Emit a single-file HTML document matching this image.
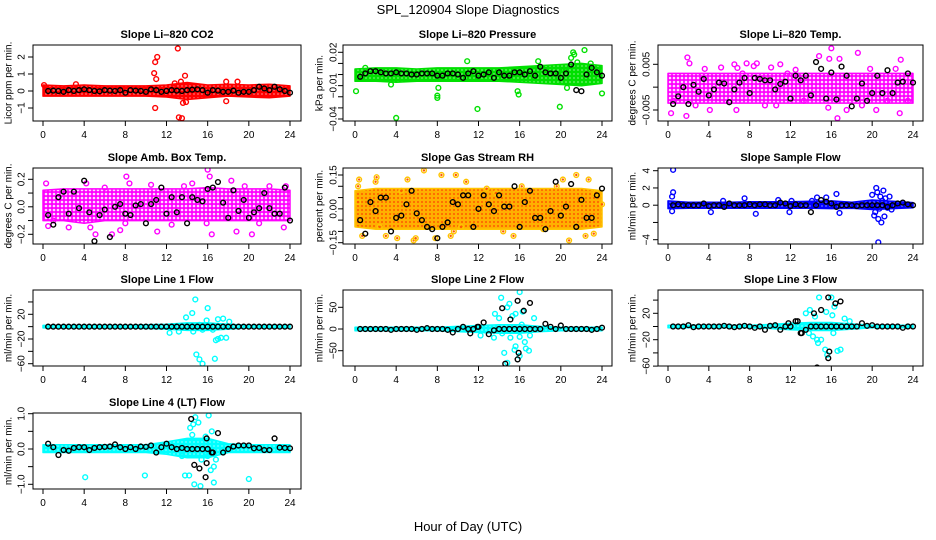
<!DOCTYPE html>
<html><head><meta charset="utf-8"><style>
html,body{margin:0;padding:0;background:#fff;}
svg{display:block;font-family:"Liberation Sans",sans-serif;}
</style></head><body>
<svg id="chart" width="936" height="540" viewBox="0 0 936 540" xmlns="http://www.w3.org/2000/svg">
<rect width="936" height="540" fill="#fff"/>
<text x="468" y="14" text-anchor="middle" font-size="13">SPL_120904  Slope Diagnostics</text>
<text x="468" y="531" text-anchor="middle" font-size="13">Hour of Day (UTC)</text>
<g id="panels"></g>
</svg>
<script>
// ---------- data ----------
const xTicks = [0,4,8,12,16,20,24];
const bandHours = [0,2,4,6,8,10,12,14,16,18,20,22,24];
const blackHours = [0.5,1,1.5,2,2.5,3,3.5,4,4.5,5,5.5,6,6.5,7,7.5,8,8.5,9,9.5,10,10.5,11,11.5,12,12.5,13,13.5,14,14.5,15,15.5,16,16.5,17,17.5,18,18.5,19,19.5,20,20.5,21,21.5,22,22.5,23,23.5,24];

// P1 CO2
const co2Lo = [-0.3,-0.3,-0.3,-0.3,-0.3,-0.3,-0.35,-0.5,-0.4,-0.3,-0.35,-0.4,-0.3];
const co2Hi = [0.35,0.3,0.35,0.3,0.3,0.3,0.35,0.5,0.35,0.4,0.35,0.4,0.3];
const co2OutX = [10.8,10.9,11.1,10.9,11.0,13.1,13.2,13.5,13.8,13.6,13.9,13.4,17.8,17.8,18.9,0.1,3.2,12.8];
const co2OutY = [1.05,1.7,2.0,-1.0,0.7,2.5,-1.55,-1.6,0.9,-0.7,-0.65,0.55,0.55,-0.6,0.55,0.35,0.4,0.45];
const co2Black = [0,0.02,0,-0.05,0.05,0,0.05,0.1,0.05,0,-0.02,0.05,0.02,0,0.05,-0.1,0.05,0.02,0,-0.05,0.1,0.05,-0.05,0,0.05,0.02,0,0.05,0.08,0.1,0.05,-0.1,0.05,0.02,-0.05,-0.05,0.02,-0.1,-0.05,-0.05,0.05,0.25,0.15,0.05,0.25,0.1,0,-0.1];

// P2 Pressure
const presLo = [-0.006,-0.006,-0.007,-0.006,-0.006,-0.006,-0.006,-0.006,-0.007,-0.008,-0.009,-0.01,-0.008];
const presHi = [0.005,0.006,0.006,0.005,0.006,0.006,0.006,0.006,0.007,0.008,0.009,0.01,0.008];
const presOutX = [0.1,4.0,4.1,8.1,8.0,8.0,11.9,10.9,15.8,15.9,17.8,19.9,20.6,21.3,21.2,22.3,22.9,24,20.3,21.0,21.6,1.0,3.5];
const presOutY = [-0.015,-0.039,0.003,-0.012,-0.021,-0.019,-0.031,0.012,-0.015,-0.018,0.012,-0.029,-0.012,0.018,0.02,0.022,0.01,-0.017,0.004,0.015,0.011,0.006,-0.009];
const presBlack = [-0.002,0.001,0.003,0.003,0.002,0.001,0.001,0.002,0.001,0.001,0,0,0.001,0.001,0.001,-0.001,-0.001,0.001,0.001,0,-0.003,0.001,0.003,-0.001,0,0.002,-0.003,0.002,-0.001,-0.001,0.002,0.002,0,0.003,-0.001,0.007,0.002,0.001,0.001,-0.003,0.001,0.009,-0.014,-0.015,0,0.006,0.002,-0.001];

// P3 Li-820 Temp
const tempLo = [-0.0035,-0.0035,-0.0035,-0.0035,-0.0035,-0.0035,-0.0035,-0.0035,-0.0035,-0.0035,-0.0035,-0.0035,-0.0035];
const tempHi = [0.003,0.003,0.003,0.003,0.003,0.003,0.003,0.003,0.003,0.003,0.003,0.003,0.003];
const tempOutX = [0.3,1.9,1.8,2.1,3.6,5.2,6.5,6.8,7.7,8.7,8.4,11,10.1,12.5,14.8,15.8,16.0,16.6,16.8,18.6,22.8,22.7,20.4,10.6,4.1,0.5,2.7,9.5,13.3,15.7,17.5,19.0,21.5,23.5,6.7,3.3,7.3,11.7,19.8,22.3];
const tempOutY = [-0.0057,0.0065,-0.0063,0.0052,0.004,0.0043,0.005,0.0042,0.0052,0.0052,0.0046,0.005,0.0043,0.0038,0.0068,0.0062,0.0085,-0.0068,0.0062,0.0075,0.006,-0.0057,-0.005,-0.004,-0.005,-0.003,-0.004,-0.004,-0.003,-0.0045,-0.005,-0.004,-0.003,-0.003,-0.005,0.0025,0.003,0.003,0.004,0.004];
const tempBlack = [-0.0037,-0.002,0,-0.0037,0.0005,-0.001,0.0018,-0.0018,-0.0005,0.001,0.0008,-0.0033,-0.0005,0.001,0.002,-0.0013,0.002,0.0018,0.0015,0.0015,-0.0005,0.0007,0.0012,-0.0025,0.0025,0.0015,0.0025,-0.0018,0.0055,0.004,-0.0025,0.0032,-0.0027,0.0045,0.0025,-0.0042,-0.0025,0.0008,-0.003,-0.0013,0.0025,-0.0013,0.0037,-0.0013,0.001,0.0012,0.003,0.001];

// P4 Amb. Box Temp
const ambLo = [-0.1,-0.1,-0.12,-0.1,-0.1,-0.1,-0.1,-0.1,-0.1,-0.1,-0.1,-0.1,-0.1];
const ambHi = [0.12,0.13,0.13,0.13,0.13,0.13,0.13,0.13,0.14,0.13,0.13,0.13,0.12];
const ambOutX = [0.3,0.5,1.0,2.5,4.2,4.6,5.1,6.7,7.5,8.1,8.4,8.0,10.5,11.1,12.5,14.5,15.9,16.0,16.2,16.4,18.3,18.8,20.3,21.0,22.0,23.4,23.6,13.7,6.0,19.6];
const ambOutY = [0.17,-0.14,-0.1,-0.15,0.17,-0.15,-0.2,-0.2,-0.17,0.22,0.17,-0.12,0.16,-0.18,-0.13,0.17,-0.12,0.27,0.22,-0.2,0.19,-0.18,-0.2,-0.12,0.15,-0.15,0.15,0.15,0.14,0.15];
const ambBlack = [-0.06,-0.13,0.07,0.11,-0.05,0.11,-0.01,0.19,-0.04,-0.25,-0.06,-0.02,-0.22,0,0.02,-0.05,-0.06,0.01,0.02,-0.12,0.02,0.05,0.14,-0.05,0.07,-0.04,0.07,-0.12,0.07,0.05,0.04,0.13,0.14,0.18,0.03,-0.08,0.12,-0.03,0.05,-0.08,-0.04,-0.01,0.1,-0.01,-0.05,-0.05,0.14,-0.1];

// P5 Gas Stream RH
const rhLo = [-0.08,-0.09,-0.09,-0.09,-0.09,-0.09,-0.09,-0.09,-0.09,-0.09,-0.09,-0.09,-0.08];
const rhHi = [0.08,0.09,0.09,0.09,0.09,0.09,0.09,0.09,0.09,0.09,0.09,0.09,0.08];
const rhOutX = [0.3,0.4,0.3,0.7,2.1,2.4,3.0,4.1,4.5,5.1,5.7,5.9,6.7,7.8,8.4,9.3,9.8,10.3,10.8,12.8,13.7,14.4,15.4,16.2,18.3,19.6,20.2,20.8,21.5,22.4,22.7,23.2,23.4,24,2.0,9.6];
const rhOutY = [0.03,0.13,0.1,-0.12,0.14,-0.08,-0.12,-0.13,0.08,0.13,-0.14,-0.13,0.17,-0.13,0.15,-0.12,0.15,-0.08,0.12,0.09,0.07,-0.1,-0.12,0.1,-0.09,0.1,0.13,-0.14,0.15,-0.12,0.13,-0.11,0.07,0.02,0.12,-0.1];
const rhBlack = [-0.05,-0.11,0.03,-0.01,0.05,0.05,-0.1,-0.04,-0.03,0.02,0.08,-0.02,-0.05,-0.08,-0.09,-0.13,-0.08,-0.06,0.03,0.02,0.06,0.06,-0.08,0,0.06,0.02,-0.01,0.06,0.01,0.01,0.1,-0.08,0.03,0.08,-0.04,-0.04,-0.09,-0.01,0.12,-0.03,0.01,0.11,-0.08,0.04,-0.04,-0.04,0.06,0.09];

// P6 Sample Flow
const sampLo = [-0.4,-0.35,-0.35,-0.35,-0.35,-0.35,-0.35,-0.35,-0.4,-0.35,-0.5,-0.4,-0.3];
const sampHi = [0.5,0.35,0.35,0.35,0.4,0.4,0.4,0.45,0.5,0.35,0.6,0.45,0.3];
const sampOutX = [0.5,0.5,0.4,0.4,4.2,5.4,7.5,8.6,10.8,11.9,12.1,14.1,14.6,15.5,16.5,16.8,20.0,20.2,20.4,20.5,20.6,20.8,20.9,21.1,21.2,21.3,20.6,21.7,21.9,20.3,21.0,20.7,21.5];
const sampOutY = [4.1,1.5,1.0,-0.7,-0.8,0.5,0.8,-1.0,0.6,-0.8,0.5,0.5,0.9,0.9,1.3,-0.9,1.2,-1.2,2.0,1.5,-1.6,1.0,-2.0,1.7,-1.3,0.8,-4.3,1.0,-0.5,-0.8,0.5,-0.4,-0.3];
const sampBlack = [0,0.1,0,0,0,0,0.2,-0.1,0,0,-0.2,0.2,0,0,0,0.1,0,0.1,0.1,0,0,0.3,0.2,-0.1,0.1,0,0,-0.8,0,0.6,0.4,0.2,-0.2,0,0,0,-0.1,0,0,0,0,0,-0.2,0,0.2,0.3,0.1,0];

// P7 Line 1 Flow
const l1Lo = [-2,-2,-2,-2,-2,-3,-4,-6,-6,-4,-2,-2,-2];
const l1Hi = [2,2,2,2,2,3,4,6,6,4,2,2,2];
const l1OutX = [14.8,15.9,16.0,14.5,13.9,12.3,13.2,14.6,14.9,15.2,15.5,16.7,16.8,17.0,17.3,17.0,17.5,17.8,18.1,15.5,15.2,16.5];
const l1OutY = [44,10,30,22,15,-10,-8,-8,-45,-53,-60,-52,-22,-20,-18,12,13,-18,8,-5,3,-5];
const l1Black = [0,0,0,0,0,0,0,0,0,0,0,0,0,0,0,0,0,0,0,0,0,0,0,0,0,0,0,0,0,0,0,0,0,0,0,0,0,0,0,0,0,0,0,0,0,0,0,0];

// P8 Line 2 Flow
const l2Lo = [-4,-4,-4,-4,-4,-6,-8,-10,-10,-6,-4,-4,-4];
const l2Hi = [4,4,4,4,4,6,8,10,10,6,4,4,4];
const l2OutX = [14.2,14.8,15.0,15.3,15.6,16.0,15.1,15.6,14.5,14.8,15.5,16.0,16.5,16.6,16.9,16.3,16.0,17.4,13.5,12.2,13.6,14.0,16.2,17.0,14.3];
const l2OutY = [72,50,58,30,35,-18,-20,-40,-55,-78,-48,-62,-30,-45,-50,40,85,25,-20,-15,35,25,10,-15,-10];
const l2Black = [0,0,0,0,0,0,-2,0,0,0,0,-2,0,2,0,0,0,-2,-8,0,5,0,0,5,15,-12,-3,0,0,0,0,0,0,0,0,0,12,5,0,8,0,0,0,0,0,-2,0,3];
const l2ExtraX = [11.2,11.9,14.3,15.1,15.8,16.4,17.0,15.9,15.8,14.6];
const l2ExtraY = [-10,5,48,22,65,42,60,-55,-70,-80];

// P9 Line 3 Flow
const l3Lo = [-2,-2,-2,-2,-2,-3,-5,-6,-6,-4,-2,-2,-2];
const l3Hi = [2,2,2,2,2,3,5,6,6,4,2,2,2];
const l3OutX = [14.8,16.0,16.3,16.1,13.5,13.9,14.4,15.5,17.3,13.8,14.2,14.7,15.0,15.4,15.6,16.6,16.9,16.2,14.6,13.5,17.8];
const l3OutY = [44,44,30,17,20,25,15,22,12,-10,-15,-25,-20,-35,-43,-37,-35,-10,-20,-5,8];
const l3Black = [0,0,0,2,-1,0,0,0,0,0,1,0,-1,0,1,0,-2,0,-5,1,2,-5,0,0,8,-10,-5,0,0,0,0,0,0,0,0,0,0,5,1,2,0,0,0,0,0,-2,0,0];
const l3ExtraX = [12.7,13.1,14.3,14.6,15.0,15.7,15.8,15.7,16.4,16.9,11.8];
const l3ExtraY = [8,-10,20,-62,25,44,-38,-48,35,38,5];

// P10 Line 4 (LT) Flow
const l4Lo = [-0.1,-0.1,-0.1,-0.1,-0.1,-0.1,-0.15,-0.25,-0.25,-0.1,-0.1,-0.1,-0.1];
const l4Hi = [0.12,0.12,0.12,0.12,0.12,0.12,0.2,0.3,0.3,0.15,0.12,0.12,0.12];
const l4OutX = [4.1,9.9,13.8,14.2,14.6,14.8,14.3,15.1,16.1,14.7,15.3,16.6,15.8,16.3,16.6,16.4,16.8,20.0,14.5,15.4,13.5,16.0];
const l4OutY = [-0.8,-0.75,-0.75,-0.75,0.7,0.9,0.6,0.75,0.95,-1.0,-1.05,-0.95,0.35,-0.6,-0.5,0.5,-0.3,-0.85,0.4,-0.3,-0.2,-0.2];
const l4Black = [0.15,0.05,-0.17,-0.03,-0.05,0.03,0.05,0.05,-0.03,0.03,0.05,0.06,0.07,0.13,0.05,0,0.05,0,0.07,0.06,0.1,-0.1,0.05,0.15,0.05,0,0.03,0,0,0,0,0,-0.1,0.45,-0.1,0,0.07,0.1,0.1,0.1,0.02,0.03,-0.03,-0.03,0.3,0.04,0.03,0.02];
const l4ExtraX = [14.4,14.7,15.2,15.9,15.8,15.9,16.4];
const l4ExtraY = [0.85,-0.45,-0.55,-0.4,-0.8,0.3,-0.1];

// ---------- layout ----------
const cols = [
  {bx0:33,bx1:301,x0:43,x24:290,ylabX:9,tickX:22},
  {bx0:343,bx1:612,x0:355,x24:602,ylabX:320,tickX:334},
  {bx0:658,bx1:923,x0:668,x24:913,ylabX:633,tickX:647}
];
const rows = [{by0:45,by1:121},{by0:168,by1:244},{by0:290,by1:366},{by0:413,by1:489}];

const panels = [
 {key:'co2',title:'Slope Li\u2013820 CO2',ylab:'Licor ppm per min.',c:0,r:0,v1:2,p1:57,v2:0,p2:91,ticks:[-1,0,1,2],labels:['\u22121','0','1','2'],col:'#ff0000',lo:co2Lo,hi:co2Hi,ox:co2OutX,oy:co2OutY,black:co2Black},
 {key:'pres',title:'Slope Li\u2013820 Pressure',ylab:'kPa per min.',c:1,r:0,v1:0.02,p1:52.3,v2:-0.04,p2:119,ticks:[-0.04,-0.03,-0.02,-0.01,0,0.01,0.02],labels:['\u22120.04','','','\u22120.01','','','0.02'],col:'#00e000',lo:presLo,hi:presHi,ox:presOutX,oy:presOutY,black:presBlack},
 {key:'temp',title:'Slope Li\u2013820 Temp.',ylab:'degrees C per min.',c:2,r:0,v1:0.005,p1:64.3,v2:-0.005,p2:110,ticks:[-0.005,0,0.005],labels:['\u22120.005','','0.005'],col:'#ff00ff',sparse:true,lo:tempLo,hi:tempHi,ox:tempOutX,oy:tempOutY,black:tempBlack},
 {key:'amb',title:'Slope Amb. Box Temp.',ylab:'degrees C per min.',c:0,r:1,v1:0.2,p1:179.3,v2:-0.2,p2:234.3,ticks:[-0.2,-0.1,0,0.1,0.2],labels:['\u22120.2','','0.0','','0.2'],col:'#ff00ff',sparse:true,lo:ambLo,hi:ambHi,ox:ambOutX,oy:ambOutY,black:ambBlack},
 {key:'rh',title:'Slope Gas Stream RH',ylab:'percent per min.',c:1,r:1,v1:0.15,p1:175,v2:-0.15,p2:242.7,ticks:[-0.15,-0.1,-0.05,0,0.05,0.1,0.15],labels:['\u22120.15','','','0.00','','','0.15'],col:'#ff5a00',ring:'#ffc400',lo:rhLo,hi:rhHi,ox:rhOutX,oy:rhOutY,black:rhBlack},
 {key:'samp',title:'Slope Sample Flow',ylab:'ml/min per min.',c:2,r:1,v1:4,p1:170.7,v2:-4,p2:239.7,ticks:[-4,-2,0,2,4],labels:['\u22124','','0','2','4'],col:'#0000ff',lo:sampLo,hi:sampHi,ox:sampOutX,oy:sampOutY,black:sampBlack},
 {key:'l1',title:'Slope Line 1 Flow',ylab:'ml/min per min.',c:0,r:2,v1:20,p1:314.3,v2:-20,p2:339,ticks:[-60,-40,-20,0,20,40],labels:['\u221260','','\u221220','','20',''],col:'#00ffff',lo:l1Lo,hi:l1Hi,ox:l1OutX,oy:l1OutY,black:l1Black},
 {key:'l2',title:'Slope Line 2 Flow',ylab:'ml/min per min.',c:1,r:2,v1:50,p1:307.3,v2:-50,p2:350.7,ticks:[-50,0,50],labels:['\u221250','0','50'],col:'#00ffff',lo:l2Lo,hi:l2Hi,ox:l2OutX,oy:l2OutY,black:l2Black,ex:l2ExtraX,ey:l2ExtraY},
 {key:'l3',title:'Slope Line 3 Flow',ylab:'ml/min per min.',c:2,r:2,v1:20,p1:313.3,v2:-20,p2:339.7,ticks:[-60,-40,-20,0,20,40],labels:['\u221260','','\u221220','','20',''],col:'#00ffff',lo:l3Lo,hi:l3Hi,ox:l3OutX,oy:l3OutY,black:l3Black,ex:l3ExtraX,ey:l3ExtraY},
 {key:'l4',title:'Slope Line 4 (LT) Flow',ylab:'ml/min per min.',c:0,r:3,v1:1,p1:413.7,v2:-1,p2:484.3,ticks:[-1,-0.5,0,0.5,1],labels:['\u22121.0','','0.0','','1.0'],col:'#00ffff',lo:l4Lo,hi:l4Hi,ox:l4OutX,oy:l4OutY,black:l4Black,ex:l4ExtraX,ey:l4ExtraY}
];

const NS = 'http://www.w3.org/2000/svg';
const root = document.getElementById('panels');
function mk(tag, attrs, parent){ const e=document.createElementNS(NS,tag); for(const k in attrs) e.setAttribute(k,attrs[k]); parent.appendChild(e); return e; }

const defs = mk('defs',{},root);

panels.forEach(p=>{
  const C = cols[p.c], R = rows[p.r];
  const xs = h => C.x0 + (C.x24 - C.x0) * h / 24;
  const ys = v => p.p2 + (v - p.v2) * (p.p1 - p.p2) / (p.v1 - p.v2);
  const g = mk('g',{},root);
  
  

  const cp = mk('clipPath',{id:'clip-'+p.key},defs);
  mk('rect',{x:C.bx0,y:R.by0,width:C.bx1-C.bx0,height:R.by1-R.by0},cp);
  const pat = mk('pattern',{id:'pat-'+p.key,width:4,height:4,patternUnits:'userSpaceOnUse'},defs);
  if(p.ring){
    mk('rect',{width:4,height:4,fill:'#ffb000'},pat);
    mk('circle',{cx:2,cy:2,r:1.0,fill:p.col},pat);
  } else {
    mk('rect',{width:4,height:4,fill:p.col},pat);
    mk('circle',{cx:2,cy:2,r:p.sparse?1.3:0.9,fill:'#fff','fill-opacity':p.sparse?0.85:0.45},pat);
  }

  const title = mk('text',{x:(C.bx0+C.bx1)/2,y:R.by0-7,'text-anchor':'middle','font-size':11,'font-weight':'bold'},g);
  title.textContent = p.title;
  
  

  const yl = mk('text',{x:C.ylabX,y:(R.by0+R.by1)/2,'text-anchor':'middle','font-size':10,'dominant-baseline':'middle',transform:`rotate(-90 ${C.ylabX} ${(R.by0+R.by1)/2})`},g);
  yl.textContent = p.ylab;
  
  

  const plot = mk('g',{'clip-path':`url(#clip-${p.key})`},g);
  
  

  let pts = [];
  for(let i=0;i<bandHours.length;i++) pts.push(xs(bandHours[i]).toFixed(1)+','+ys(p.hi[i]).toFixed(1));
  for(let i=bandHours.length-1;i>=0;i--) pts.push(xs(bandHours[i]).toFixed(1)+','+ys(p.lo[i]).toFixed(1));
  const band = mk('polygon',{points:pts.join(' '),fill:`url(#pat-${p.key})`,stroke:p.ring||p.col,'stroke-width':1.5,'stroke-linejoin':'round'},plot);
  
  

  for(let i=0;i<p.ox.length;i++){
    const c = mk('circle',{cx:xs(p.ox[i]),cy:ys(p.oy[i]),r:2.4,fill:'none',stroke:p.ring||p.col,'stroke-width':1.4},plot);
    
    
    if(p.ring){ mk('circle',{cx:xs(p.ox[i]),cy:ys(p.oy[i]),r:1.2,fill:p.col},plot); }
  }
  const n = Math.min(blackHours.length, p.black.length);
  for(let i=0;i<n;i++){
    const c = mk('circle',{cx:xs(blackHours[i]),cy:ys(p.black[i]),r:2.4,fill:'none',stroke:'#000','stroke-width':1.4},plot);
    
    
  }
  if(p.ex){
    for(let i=0;i<p.ex.length;i++){
      const c = mk('circle',{cx:xs(p.ex[i]),cy:ys(p.ey[i]),r:2.4,fill:'none',stroke:'#000','stroke-width':1.4},plot);
      
      
    }
  }

  const box = mk('rect',{x:C.bx0,y:R.by0,width:C.bx1-C.bx0,height:R.by1-R.by0,fill:'none',stroke:'#000','stroke-width':1},g);
  
  

  const xa = mk('g',{},g);
  
  
  xTicks.forEach(t=>{
    mk('line',{x1:xs(t),x2:xs(t),y1:R.by1,y2:R.by1+5,stroke:'#000'},xa);
    const tl = mk('text',{x:xs(t),y:R.by1+17,'text-anchor':'middle','font-size':10},xa);
    tl.textContent = t;
  });
  const ya = mk('g',{},g);
  
  
  p.ticks.forEach((t,i)=>{
    const y = ys(t);
    mk('line',{x1:C.bx0-5,x2:C.bx0,y1:y,y2:y,stroke:'#000'},ya);
    if(p.labels[i]){
      const tl = mk('text',{x:C.tickX,y:y,'text-anchor':'middle','font-size':10,'dominant-baseline':'middle',transform:`rotate(-90 ${C.tickX} ${y})`},ya);
      tl.textContent = p.labels[i];
    }
  });
});
</script>
</body></html>
